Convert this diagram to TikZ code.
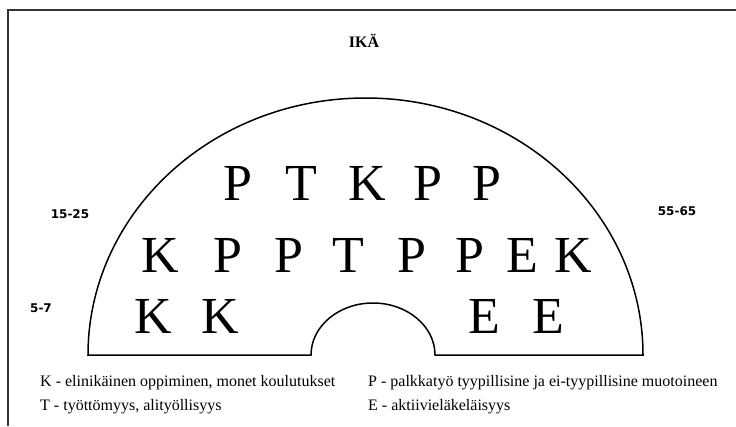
\documentclass[tikz,border=0pt]{standalone}
\usepackage{fontspec}
\setmainfont{Liberation Serif}
\newfontfamily\agefont{DejaVu Sans}
\begin{document}
\begin{tikzpicture}[x=1pt,y=1pt,
  bigletter/.style={font=\fontsize{52}{52}\selectfont, inner sep=0pt, anchor=base},
  agelabel/.style={font=\agefont\bfseries\fontsize{12}{12}\selectfont, inner sep=0pt},
  legend/.style={font=\fontsize{16}{16}\selectfont, inner sep=0pt, anchor=base west},
  shape line/.style={line width=1.5pt},
  frame line/.style={line width=2.2pt, black!80}]
\useasboundingbox (0,0) rectangle (736,-426);
% partial frame
\draw[frame line] (8,-426) -- (8,-10) -- (736,-10);
% title
\node[font=\fontsize{16}{16}\selectfont\bfseries, inner sep=0pt] (title) at (364,-41) {IKÄ};
% arch
\draw[shape line] (88,-355) arc[start angle=180, end angle=0, x radius=277.5pt, y radius=257pt]
  -- (435,-355) arc[start angle=0, end angle=180, x radius=62pt, y radius=52pt] -- cycle;
% age labels
\node[agelabel] (a1) at (70,-214) {15-25};
\node[agelabel] (a2) at (41,-308) {5-7};
\node[agelabel] (a3) at (677,-211) {55-65};
% row 1
\node[bigletter] (r1a) at (238,-200) {P};
\node[bigletter] (r1b) at (301,-200) {T};
\node[bigletter] (r1c) at (367,-200) {K};
\node[bigletter] (r1d) at (428,-200) {P};
\node[bigletter] (r1e) at (487,-200) {P};
% row 2
\node[bigletter] (r2a) at (160,-272) {K};
\node[bigletter] (r2b) at (228,-272) {P};
\node[bigletter] (r2c) at (289,-272) {P};
\node[bigletter] (r2d) at (348,-272) {T};
\node[bigletter] (r2e) at (412,-272) {P};
\node[bigletter] (r2f) at (470,-272) {P};
\node[bigletter] (r2g) at (522,-272) {E};
\node[bigletter] (r2h) at (573,-272) {K};
% row 3
\node[bigletter] (r3a) at (153,-333) {K};
\node[bigletter] (r3b) at (220,-333) {K};
\node[bigletter] (r3c) at (484,-333) {E};
\node[bigletter] (r3d) at (548,-333) {E};
% legend
\node[legend] (lk) at (40,-386) {K - elinikäinen oppiminen, monet koulutukset};
\node[legend] (lt) at (40,-410) {T - työttömyys, alityöllisyys};
\node[legend] (lp) at (368,-386) {P - palkkatyö tyypillisine ja ei-tyypillisine muotoineen};
\node[legend] (le) at (368,-410) {E - aktiivieläkeläisyys};
\end{tikzpicture}
\end{document}
